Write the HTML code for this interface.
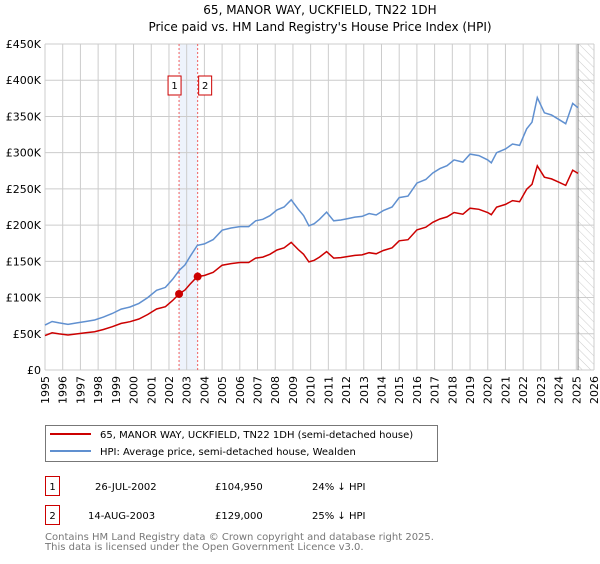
<!DOCTYPE html>
<html><head><meta charset="utf-8"><style>
body{margin:0;background:#fff;font-family:"DejaVu Sans","Liberation Sans",sans-serif;}
svg text{font-family:"DejaVu Sans","Liberation Sans",sans-serif;}
</style></head><body>
<svg id="c" width="600" height="560" viewBox="0 0 600 560">
<defs><pattern id="hatch" width="6" height="6" patternUnits="userSpaceOnUse" patternTransform="rotate(-45)"><line x1="0" y1="0" x2="0" y2="6" stroke="#ccc" stroke-width="1"/></pattern></defs>
<text x="320" y="14" text-anchor="middle" font-size="12">65, MANOR WAY, UCKFIELD, TN22 1DH</text>
<text x="320" y="31" text-anchor="middle" font-size="12">Price paid vs. HM Land Registry's House Price Index (HPI)</text>
<g id="grid"></g><g id="plot"></g><g id="axes"></g>
<g>
<rect x="45.5" y="425.5" width="392" height="36" fill="#fff" stroke="#777"/>
<line x1="50" y1="434" x2="91" y2="434" stroke="#cc0000" stroke-width="2"/>
<text x="100" y="438" font-size="10">65, MANOR WAY, UCKFIELD, TN22 1DH (semi-detached house)</text>
<line x1="50" y1="451" x2="91" y2="451" stroke="#6090d0" stroke-width="2"/>
<text x="100" y="455" font-size="10">HPI: Average price, semi-detached house, Wealden</text>
</g>
<g font-size="10">
<rect x="45.5" y="476.5" width="14" height="19" fill="#fff" stroke="#cc0000"/><text x="52.5" y="490" text-anchor="middle">1</text>
<text x="95" y="490">26-JUL-2002</text><text x="215" y="490">£104,950</text><text x="312" y="490">24% ↓ HPI</text>
<rect x="45.5" y="505.5" width="14" height="19" fill="#fff" stroke="#cc0000"/><text x="52.5" y="519" text-anchor="middle">2</text>
<text x="88" y="519">14-AUG-2003</text><text x="215" y="519">£129,000</text><text x="312" y="519">25% ↓ HPI</text>
</g>
<text x="45" y="540" font-size="10" fill="#777">Contains HM Land Registry data © Crown copyright and database right 2025.</text>
<text x="45" y="550" font-size="10" fill="#777">This data is licensed under the Open Government Licence v3.0.</text>
</svg>
<script>
const hpiYears=[1995,1995.4,1995.8,1996.3,1996.8,1997.3,1997.8,1998.3,1998.8,1999.3,1999.8,2000.3,2000.8,2001.3,2001.8,2002.2,2002.6,2002.9,2003.2,2003.6,2004.0,2004.5,2005.0,2005.5,2006.0,2006.5,2006.9,2007.3,2007.7,2008.1,2008.5,2008.9,2009.3,2009.6,2009.9,2010.2,2010.5,2010.9,2011.3,2011.7,2012.1,2012.5,2012.9,2013.3,2013.7,2014.1,2014.6,2015.0,2015.5,2016.0,2016.5,2016.9,2017.3,2017.7,2018.1,2018.6,2019.0,2019.5,2020.0,2020.2,2020.5,2021.0,2021.4,2021.8,2022.2,2022.5,2022.8,2023.2,2023.6,2024.0,2024.4,2024.8,2025.1];
const hpiValues=[62000,67000,65000,63000,65000,67000,69000,73000,78000,84000,87000,92000,100000,110000,114000,125000,138000,145000,157000,172000,174000,180000,193000,196000,198000,198000,206000,208000,213000,221000,225000,235000,222000,213000,199000,202000,208000,218000,206000,207000,209000,211000,212000,216000,214000,220000,225000,238000,240000,258000,263000,272000,278000,282000,290000,287000,298000,296000,290000,286000,300000,305000,312000,310000,333000,342000,376000,355000,352000,346000,340000,368000,362000];
const saleDates=[2002.57,2003.62];
const salePrices=[104950,129000];
const yTicks=[0,50000,100000,150000,200000,250000,300000,350000,400000,450000];
const yLabels=["£0","£50K","£100K","£150K","£200K","£250K","£300K","£350K","£400K","£450K"];
const xTicks=[1995,1996,1997,1998,1999,2000,2001,2002,2003,2004,2005,2006,2007,2008,2009,2010,2011,2012,2013,2014,2015,2016,2017,2018,2019,2020,2021,2022,2023,2024,2025,2026];
const NS="http://www.w3.org/2000/svg";
const X0=45,X1=594,Y0=370,Y1=44;
const xs=y=>X0+(y-1995)/(2026-1995)*(X1-X0);
const ys=v=>Y0-v/450000*(Y0-Y1);
function mk(t,a,p){const e=document.createElementNS(NS,t);for(const k in a)e.setAttribute(k,a[k]);p.appendChild(e);return e;}
function hpiAt(t){for(let i=1;i<hpiYears.length;i++){if(t<=hpiYears[i]){const f=(t-hpiYears[i-1])/(hpiYears[i]-hpiYears[i-1]);return hpiValues[i-1]+f*(hpiValues[i]-hpiValues[i-1]);}}return hpiValues[hpiValues.length-1];}
const grid=document.getElementById('grid'),plot=document.getElementById('plot'),axes=document.getElementById('axes');
let r=mk('rect',{x:X0,y:Y1,width:X1-X0,height:Y0-Y1,fill:'#fff'},grid);

let sh=mk('rect',{x:xs(saleDates[0]),y:Y1,width:xs(saleDates[1])-xs(saleDates[0]),height:Y0-Y1,fill:'#eef3fc'},grid);

let ht=mk('rect',{x:xs(2025.1),y:Y1,width:X1-xs(2025.1),height:Y0-Y1,fill:'url(#hatch)'},grid);

yTicks.forEach((v,i)=>{const y=ys(v);mk('line',{x1:X0,x2:X1,y1:y,y2:y,stroke:'#ccc'},grid);
const t=mk('text',{x:X0-4,y:y+4,'text-anchor':'end','font-size':11},axes);t.textContent=yLabels[i];
});
xTicks.forEach(yr=>{const x=xs(yr);mk('line',{x1:x,x2:x,y1:Y1,y2:Y0,stroke:'#ccc'},grid);
const t=mk('text',{x:0,y:0,'text-anchor':'end','font-size':11,transform:`translate(${x+4},${Y0+6}) rotate(-90)`},axes);t.textContent=yr;
});
let nl=mk('line',{x1:xs(2025.1),x2:xs(2025.1),y1:Y1,y2:Y0,stroke:'#888','stroke-width':1},grid);

saleDates.forEach((d,i)=>{const x=xs(d);const l=mk('line',{x1:x,x2:x,y1:Y1,y2:Y0,stroke:'#f06060','stroke-dasharray':'2,2'},grid);

const g=mk('g',{},axes);
const bx=i==0?x-11:x+1;mk('rect',{x:bx,y:76,width:13,height:19,fill:'#fff',stroke:'#cc0000'},g);
const t=mk('text',{x:bx+6.5,y:89,'text-anchor':'middle','font-size':10},g);t.textContent=i+1;});
let d='';hpiYears.forEach((t,i)=>{d+=(i?'L':'M')+xs(t).toFixed(1)+','+ys(hpiValues[i]).toFixed(1);});
let hl=mk('path',{d:d,fill:'none',stroke:'#6090d0','stroke-width':1.5},plot);

const r1=salePrices[0]/hpiAt(saleDates[0]),r2=salePrices[1]/hpiAt(saleDates[1]);
function ratio(t){if(t<=saleDates[0])return r1;if(t>=saleDates[1])return r2;const f=(t-saleDates[0])/(saleDates[1]-saleDates[0]);return r1+f*(r2-r1);}
const pts=hpiYears.slice();saleDates.forEach(s=>pts.push(s));pts.sort((a,b)=>a-b);
let d2='';pts.forEach((t,i)=>{d2+=(i?'L':'M')+xs(t).toFixed(1)+','+ys(hpiAt(t)*ratio(t)).toFixed(1);});
let pl=mk('path',{d:d2,fill:'none',stroke:'#cc0000','stroke-width':1.5},plot);

saleDates.forEach((s,i)=>{const c=mk('circle',{cx:xs(s),cy:ys(salePrices[i]),r:4,fill:'#cc0000'},plot);
});
</script>
</body></html>
